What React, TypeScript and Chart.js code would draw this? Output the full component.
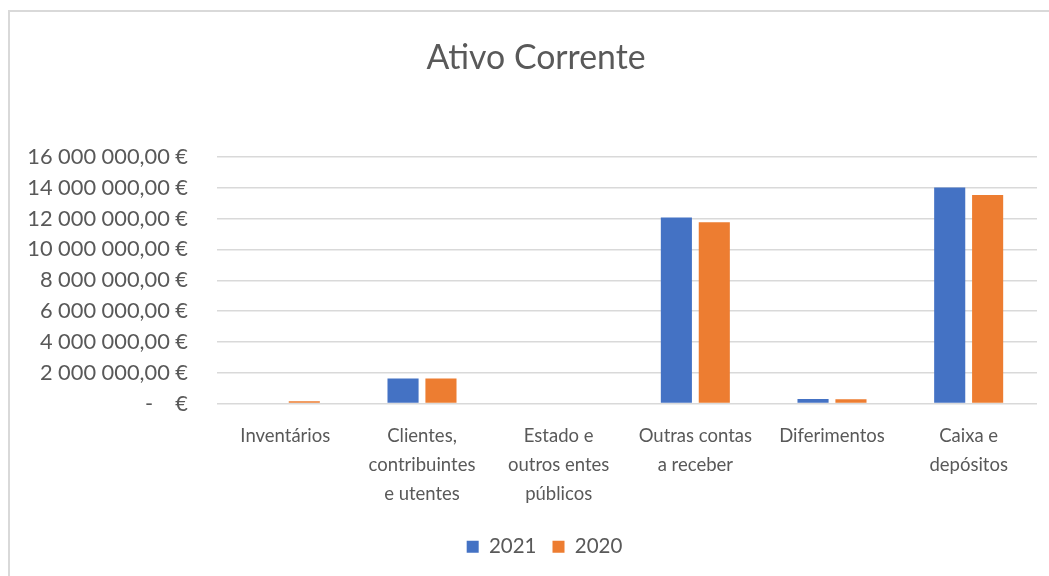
import React, { useEffect, useRef } from "react";
import { Chart, registerables } from "chart.js";

Chart.register(...registerables);

const categories: (string | string[])[] = [
  "Inventários",
  ["Clientes,", "contribuintes", "e utentes"],
  ["Estado e", "outros entes", "públicos"],
  ["Outras contas", "a receber"],
  "Diferimentos",
  ["Caixa e", "depósitos"],
];
const chartTitle = "Ativo Corrente";
const seriesLabels = ["2021", "2020"];
const values2021 = [0, 1620000, 0, 12080000, 300000, 14020000];
const values2020 = [150000, 1620000, 0, 11760000, 280000, 13530000];
const yTicks = [0, 2000000, 4000000, 6000000, 8000000, 10000000, 12000000, 14000000, 16000000];

const TEXT = "#595959";
const FONT = "Lato, 'Open Sans', sans-serif";

function formatEuro(v: number): string {
  if (v === 0) return "-    €";
  const s = Math.round(v).toString().replace(/\B(?=(\d{3})+(?!\d))/g, " ");
  return s + ",00 €";
}

const framePlugin = {
  id: "frame",
  afterLayout(chart: any) {
    if (chart.legend) {
      chart.legend.left += 14;
      chart.legend.right += 14;
    }
  },
  beforeDraw(chart: any) {
    const ctx = chart.ctx;
    ctx.save();
    ctx.fillStyle = "#ffffff";
    ctx.fillRect(0, 0, chart.width, chart.height);
    ctx.strokeStyle = "#d9d9d9";
    ctx.lineWidth = 2;
    ctx.strokeRect(9, 11, chart.width + 20, chart.height + 20);
    ctx.restore();
  },
  afterDraw(chart: any) {
    const ctx = chart.ctx;
    ctx.save();
    ctx.fillStyle = TEXT;
    ctx.font = "normal 33.8px " + FONT;
    ctx.textAlign = "center";
    ctx.textBaseline = "middle";
    ctx.fillText(chartTitle, 536, 58);
    ctx.restore();
  },
};

export default function App() {
  const ref = useRef<HTMLCanvasElement | null>(null);
  useEffect(() => {
    document.body.style.margin = "0";
    const canvas = ref.current;
    if (!canvas) return;
    const chart = new Chart(canvas, {
      type: "bar",
      data: {
        labels: categories,
        datasets: [
          { label: seriesLabels[0], data: values2021, backgroundColor: "#4472C4" },
          { label: seriesLabels[1], data: values2020, backgroundColor: "#ED7D31" },
        ],
      },
      options: {
        responsive: false,
        animation: false,
        layout: { padding: { left: 24, right: 12, top: 157, bottom: 9 } },
        datasets: { bar: { categoryPercentage: 0.555, barPercentage: 0.82 } },
        plugins: {
          tooltip: { enabled: false },
          title: { display: false },
          legend: {
            position: "bottom",
            labels: {
              color: TEXT,
              font: { family: FONT, size: 20.5 },
              boxWidth: 12,
              boxHeight: 12,
              padding: 16,
            },
          },
        },
        scales: {
          x: {
            grid: { display: false, drawTicks: false },
            border: { display: false },
            ticks: {
              color: TEXT,
              font: { family: FONT, size: 18.5, lineHeight: 1.57 },
              padding: 18,
              maxRotation: 0,
              autoSkip: false,
            },
            afterFit(scale: any) {
              scale.height = 117;
            },
          },
          y: {
            min: 0,
            max: 16000000,
            grid: { color: "#d9d9d9", lineWidth: 1.5, drawTicks: false },
            border: { display: false },
            afterBuildTicks(scale: any) {
              scale.ticks = yTicks.map((v) => ({ value: v }));
            },
            ticks: {
              color: TEXT,
              font: { family: FONT, size: 21.8 },
              padding: 29,
              callback: (v: any) => formatEuro(Number(v)),
            },
            afterFit(scale: any) {
              scale.width = 193;
            },
          },
        },
      },
      plugins: [framePlugin],
    });
    return () => chart.destroy();
  }, []);
  return (
    <div style={{ position: "absolute", left: 0, top: 0, width: 1049, height: 576 }}>
      <canvas ref={ref} width={1049} height={576} />
    </div>
  );
}
